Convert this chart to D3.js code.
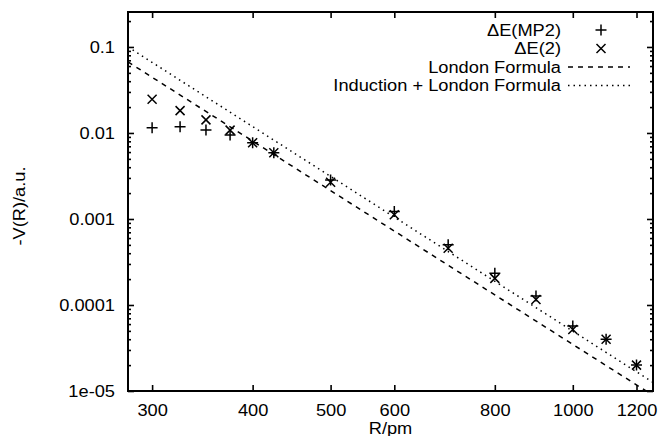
<!DOCTYPE html>
<html>
<head>
<meta charset="utf-8">
<script src="https://cdn.jsdelivr.net/npm/d3@7"></script>
<style>
body{margin:0;background:#fff}
text{font-family:"Liberation Sans",Arial,sans-serif;fill:#000}
</style>
</head>
<body>
<svg width="658" height="436"></svg>
<script>
// distances (pm) and the two computed interaction energies
const R = [300,325,350,375,400,425,500,600,700,800,900,1000,1100,1200];
const dEmp2 = [0.0115,0.0118,0.0108,0.0095,0.0077,0.0059,0.00284,0.00122,0.0005,0.000234,0.000127,5.7e-5,4.0e-5,2.0e-5];
const dE2 = [0.0247,0.0182,0.0142,0.0108,0.0077,0.0059,0.00267,0.00112,0.000456,0.000204,0.000116,5.2e-5,4.0e-5,2.0e-5];

// the two model curves (straight in log-log), given by their end points
const lineR = [280,1258];
const london = [0.067,8.9e-6];
const induction = [0.1,1.26e-5];

const xTicks = [300,400,500,600,800,1000,1200];
const yTicks = [0.1,0.01,0.001,0.0001,1e-5];
const yTickLabels = ["0.1","0.01","0.001","0.0001","1e-05"];

const pLeft = 128, pRight = 653, pTop = 12, pBottom = 391;

const svg = d3.select("svg");

const x = d3.scaleLog().domain([280,1258]).range([pLeft,pRight]);
const y = d3.scaleLog().domain([1e-5,0.255]).range([pBottom,pTop]);

let yMinor = [];
for (let e = -5; e <= -1; e++) {
  for (let k = 2; k <= 9; k++) {
    const v = k * Math.pow(10,e);
    if (v <= 0.255) yMinor.push(v);
  }
}

function styleAxis(g){
  g.select(".domain").remove();
  g.selectAll("line").attr("stroke","#000").attr("stroke-width",1.6);
  g.selectAll("text").attr("font-size",16);
}

// bottom axis with labels
svg.append("g").attr("transform",`translate(0,${pBottom})`)
  .call(d3.axisBottom(x).tickValues(xTicks).tickFormat(d3.format("d")).tickSize(-6).tickPadding(13.5))
  .call(styleAxis);
// top mirror
svg.append("g").attr("transform",`translate(0,${pTop})`)
  .call(d3.axisTop(x).tickValues(xTicks).tickFormat("").tickSize(-6))
  .call(styleAxis);

// left axis with labels
svg.append("g").attr("transform",`translate(${pLeft},0)`)
  .call(d3.axisLeft(y).tickValues(yTicks).tickFormat((d,i)=>yTickLabels[i]).tickSize(-6).tickPadding(13))
  .call(styleAxis);
svg.append("g").attr("transform",`translate(${pLeft},0)`)
  .call(d3.axisLeft(y).tickValues(yMinor).tickFormat("").tickSize(-3))
  .call(styleAxis);
// right mirror
svg.append("g").attr("transform",`translate(${pRight},0)`)
  .call(d3.axisRight(y).tickValues(yTicks).tickFormat("").tickSize(-6))
  .call(styleAxis);
svg.append("g").attr("transform",`translate(${pRight},0)`)
  .call(d3.axisRight(y).tickValues(yMinor).tickFormat("").tickSize(-3))
  .call(styleAxis);

// clip for the lines
svg.append("clipPath").attr("id","plot")
  .append("rect").attr("x",pLeft).attr("y",pTop).attr("width",pRight-pLeft).attr("height",pBottom-pTop);

const line = d3.line().x(d=>x(d[0])).y(d=>y(d[1]));

svg.append("path")
  .datum(lineR.map((r,i)=>[r,london[i]]))
  .attr("d",line)
  .attr("clip-path","url(#plot)")
  .attr("fill","none").attr("stroke","#000").attr("stroke-width",1.5)
  .attr("stroke-dasharray","5,5");

svg.append("path")
  .datum(lineR.map((r,i)=>[r,induction[i]]))
  .attr("d",line)
  .attr("clip-path","url(#plot)")
  .attr("fill","none").attr("stroke","#000").attr("stroke-width",1.5)
  .attr("stroke-dasharray","1.5,4");

const plus = "M-5.5,0H5.5M0,-5.5V5.5";
const cross = "M-4.5,-4.5L4.5,4.5M-4.5,4.5L4.5,-4.5";

svg.append("g").selectAll("path")
  .data(R.map((r,i)=>[r,dEmp2[i]]))
  .join("path")
  .attr("d",plus)
  .attr("transform",d=>`translate(${x(d[0])},${y(d[1])})`)
  .attr("fill","none").attr("stroke","#000").attr("stroke-width",1.5);

svg.append("g").selectAll("path")
  .data(R.map((r,i)=>[r,dE2[i]]))
  .join("path")
  .attr("d",cross)
  .attr("transform",d=>`translate(${x(d[0])},${y(d[1])})`)
  .attr("fill","none").attr("stroke","#000").attr("stroke-width",1.5);

// border
svg.append("rect")
  .attr("x",pLeft).attr("y",pTop).attr("width",pRight-pLeft).attr("height",pBottom-pTop)
  .attr("fill","none").attr("stroke","#000").attr("stroke-width",2);

// legend
const legend = [
  {label:"\u0394E(MP2)", type:"plus"},
  {label:"\u0394E(2)", type:"cross"},
  {label:"London Formula", type:"dash"},
  {label:"Induction + London Formula", type:"dot"}
];
const lg = svg.append("g");
legend.forEach((d,i)=>{
  const cy = 30 + i*18.5;
  lg.append("text").attr("x",561).attr("y",cy).attr("dy","0.35em")
    .attr("text-anchor","end").attr("font-size",16).text(d.label);
  if (d.type==="plus" || d.type==="cross") {
    lg.append("path").attr("d",d.type==="plus"?plus:cross)
      .attr("transform",`translate(601,${cy})`)
      .attr("fill","none").attr("stroke","#000").attr("stroke-width",1.5);
  } else {
    lg.append("line").attr("x1",568).attr("x2",630).attr("y1",cy).attr("y2",cy)
      .attr("stroke","#000").attr("stroke-width",1.5)
      .attr("stroke-dasharray",d.type==="dash"?"5,5":"1.5,4");
  }
});

// axis titles
svg.append("text").attr("x",(pLeft+pRight)/2).attr("y",434)
  .attr("text-anchor","middle").attr("font-size",16).text("R/pm");
svg.append("text")
  .attr("transform",`translate(25,206) rotate(-90)`)
  .attr("text-anchor","middle").attr("font-size",16).text("-V(R)/a.u.");

// the original lettering is a wider Helvetica: stretch the glyphs a little
svg.selectAll("text").each(function(){
  const len = this.getComputedTextLength();
  if (len > 0) d3.select(this).attr("textLength",len*1.14).attr("lengthAdjust","spacingAndGlyphs");
});
</script>
</body>
</html>
